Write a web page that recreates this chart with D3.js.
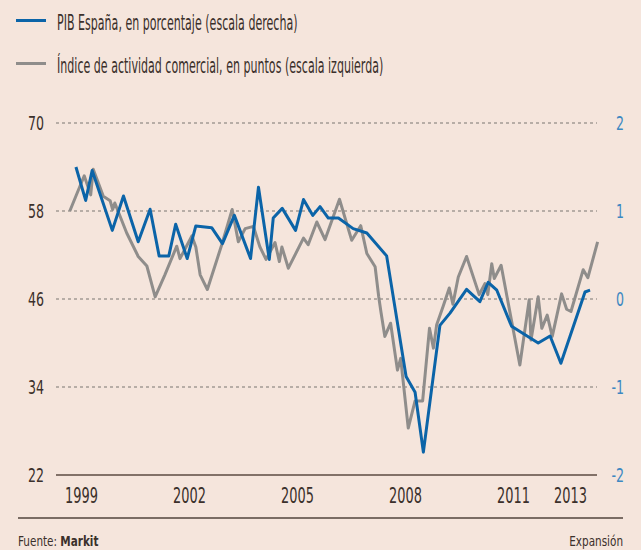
<!DOCTYPE html>
<html><head><meta charset="utf-8">
<script src="https://cdn.jsdelivr.net/npm/d3@7"></script>
<style>
html,body{margin:0;padding:0;background:#f5e5dc;}
svg{display:block;}
text{font-family:"DejaVu Sans Condensed","Liberation Sans Narrow",sans-serif;}
</style></head>
<body>
<svg id="c" width="641" height="550"></svg>
<script>
// Legend labels
const seriesNames = ["PIB España, en porcentaje (escala derecha)", "Índice de actividad comercial, en puntos (escala izquierda)"];
// Tick labels
const leftTicks = [22, 34, 46, 58, 70];
const rightTicks = [-2, -1, 0, 1, 2];
const yearTicks = [1999, 2002, 2005, 2008, 2011, 2013];
// PIB (quarterly growth, %) : time in fractional years
const pibT = [1998.86,1999.13,1999.31,1999.87,2000.18,2000.59,2000.92,2001.17,2001.44,2001.63,2001.95,2002.19,2002.63,2002.93,2003.26,2003.71,2003.93,2004.23,2004.34,2004.59,2004.96,2005.18,2005.44,2005.64,2005.87,2006.15,2006.56,2006.94,2007.49,2008.03,2008.28,2008.51,2008.97,2009.25,2009.71,2010.08,2010.31,2010.55,2010.96,2011.70,2012.03,2012.33,2013.00,2013.14];
const pibV = [1.50,1.12,1.46,0.78,1.17,0.65,1.02,0.49,0.49,0.85,0.46,0.83,0.81,0.63,0.95,0.46,1.27,0.45,0.92,1.03,0.78,1.13,0.95,1.05,0.92,0.92,0.80,0.75,0.49,-0.88,-1.06,-1.74,-0.30,-0.16,0.11,-0.03,0.19,0.10,-0.31,-0.50,-0.42,-0.73,0.08,0.10];
// Índice de actividad comercial (points)
const iacT = [1998.69,1999.09,1999.27,1999.34,1999.62,1999.81,1999.88,1999.94,2000.27,2000.59,2000.83,2001.06,2001.33,2001.66,2001.75,2002.08,2002.19,2002.31,2002.51,2002.91,2003.20,2003.37,2003.56,2003.79,2003.97,2004.14,2004.39,2004.51,2004.58,2004.76,2005.18,2005.31,2005.55,2005.78,2006.18,2006.52,2006.77,2006.94,2007.17,2007.27,2007.33,2007.44,2007.60,2007.79,2007.88,2008.09,2008.28,2008.49,2008.68,2008.79,2008.88,2009.06,2009.23,2009.33,2009.48,2009.71,2010.06,2010.22,2010.30,2010.41,2010.48,2010.67,2011.19,2011.45,2011.50,2011.70,2011.80,2011.95,2012.09,2012.35,2012.49,2012.61,2012.95,2013.08,2013.35];
const iacV = [58.0,62.8,60.2,63.7,60.0,59.4,58.2,59.1,55.0,51.8,50.5,46.3,49.3,53.2,51.5,54.6,53.1,49.3,47.3,53.4,58.2,53.8,55.6,55.9,53.1,51.4,53.7,51.1,53.1,50.2,54.3,53.4,56.5,54.1,59.6,54.0,56.0,52.2,50.4,46.3,44.3,40.9,42.7,36.3,37.9,28.4,32.1,32.1,42.0,39.3,42.5,45.0,47.5,45.3,49.0,51.8,46.6,48.1,46.6,50.8,48.8,50.6,37.0,45.9,40.4,46.3,42.0,43.8,40.9,46.7,44.6,44.3,50.0,48.9,53.8];

const svg = d3.select("#c");
const x0 = 56, x1 = 597, yTop = 123, yBot = 475;

const x = d3.scaleLinear().domain([1998.306, 2013.333]).range([x0, x1]);
const yL = d3.scaleLinear().domain([22, 70]).range([yBot, yTop]);
const yR = d3.scaleLinear().domain([-2, 2]).range([yBot, yTop]);

const blue = "#0b64a8", grey = "#8f8d8b", txt = "#3b302b", rblue = "#3d88c2";

// condense text horizontally (the original uses a condensed typeface)
function condense(sel, f) {
  sel.each(function () {
    const w = this.getComputedTextLength();
    d3.select(this).attr("textLength", (w * f).toFixed(1)).attr("lengthAdjust", "spacingAndGlyphs");
  });
}

// Legend
const leg = svg.append("g");
const legColors = [blue, grey];
seriesNames.forEach((n, i) => {
  const base = 30 + i * 43;
  leg.append("line").attr("x1", 16).attr("x2", 46).attr("y1", base - 9.5).attr("y2", base - 9.5)
    .attr("stroke", legColors[i]).attr("stroke-width", 3);
  leg.append("text").attr("x", 57).attr("y", base).attr("font-size", 20.5)
    .attr("fill", txt).text(n).call(condense, 0.6);
});

// Grid lines
const grid = svg.append("g");
leftTicks.filter(d => d !== 22).forEach(d => {
  grid.append("line").attr("x1", x0).attr("x2", x1).attr("y1", yL(d)).attr("y2", yL(d))
    .attr("stroke", "#a29a94").attr("stroke-width", 1.3).attr("stroke-dasharray", "3,3");
});
// baseline
svg.append("line").attr("x1", x0).attr("x2", x1).attr("y1", yBot).attr("y2", yBot)
  .attr("stroke", "#5b4a42").attr("stroke-width", 1.5);

// Left axis
const axL = d3.axisLeft(yL).tickValues(leftTicks).tickSize(0).tickPadding(0);
const gL = svg.append("g").attr("transform", "translate(44,0)").call(axL);
gL.select(".domain").remove();
gL.selectAll("text").attr("font-size", 20).attr("fill", txt)
  .attr("font-family", '"DejaVu Sans Condensed",sans-serif').call(condense, 0.7);

// Right axis
const axR = d3.axisLeft(yR).tickValues(rightTicks).tickSize(0).tickPadding(0).tickFormat(d3.format("d"));
const gR = svg.append("g").attr("transform", "translate(624,0)").call(axR);
gR.select(".domain").remove();
gR.selectAll("text").attr("font-size", 20).attr("fill", rblue)
  .attr("font-family", '"DejaVu Sans Condensed",sans-serif')
  .text(d => d < 0 ? "-" + Math.abs(d) : d).call(condense, 0.7);

// X axis
const axX = d3.axisBottom(x).tickValues(yearTicks).tickSize(0).tickPadding(0).tickFormat(d3.format("d"));
const gX = svg.append("g").attr("transform", "translate(0,503)").call(axX);
gX.select(".domain").remove();
gX.selectAll("text").attr("font-size", 20.5).attr("fill", txt).attr("y", 0).attr("dy", 0)
  .attr("font-family", '"DejaVu Sans Condensed",sans-serif')
  .attr("dx", d => d === 2013 ? -15 : 0).call(condense, 0.7);

// Lines
const iac = iacT.map((t, i) => [t, iacV[i]]);
const pib = pibT.map((t, i) => [t, pibV[i]]);
svg.append("path").datum(iac)
  .attr("d", d3.line().x(d => x(d[0])).y(d => yL(d[1])))
  .attr("fill", "none").attr("stroke", grey).attr("stroke-width", 3).attr("stroke-linejoin", "round");
svg.append("path").datum(pib)
  .attr("d", d3.line().x(d => x(d[0])).y(d => yR(d[1])))
  .attr("fill", "none").attr("stroke", blue).attr("stroke-width", 3).attr("stroke-linejoin", "round");

// Footer
svg.append("line").attr("x1", 18).attr("x2", 623).attr("y1", 518).attr("y2", 518)
  .attr("stroke", "#7a6c64").attr("stroke-width", 2);
const fg = svg.append("g").attr("transform", "translate(18,546) scale(0.8,1)");
const f1 = fg.append("text").attr("x", 0).attr("y", 0).attr("font-size", 14.5).attr("fill", txt);
f1.append("tspan").text("Fuente: ");
f1.append("tspan").attr("font-weight", "bold").text("Markit");
svg.append("g").attr("transform", "translate(623,546) scale(0.8,1)")
  .append("text").attr("x", 0).attr("y", 0).attr("font-size", 14.5).attr("fill", txt)
  .attr("text-anchor", "end").text("Expansión");
</script>
</body></html>
